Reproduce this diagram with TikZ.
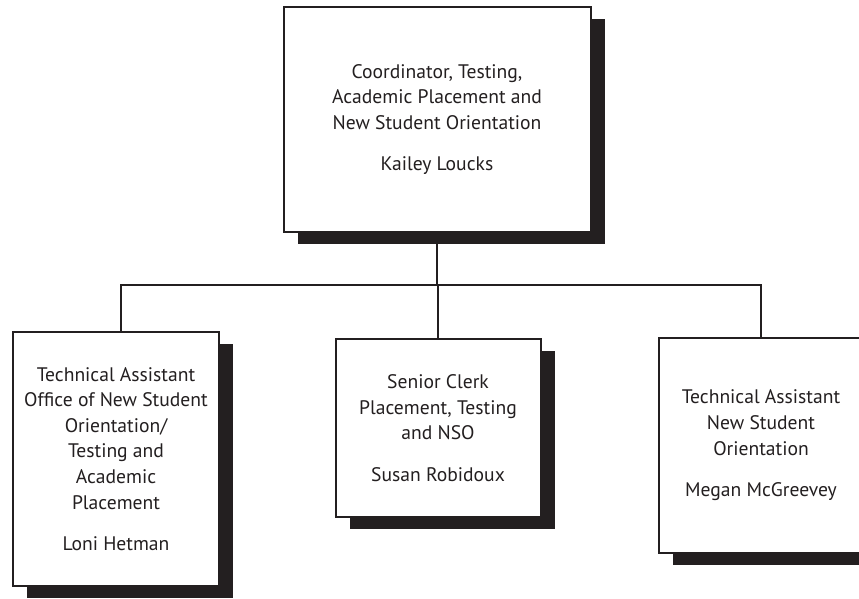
\documentclass[tikz,border=0pt]{standalone}
\usepackage{fontspec}
\setmainfont{PT Sans}
\usetikzlibrary{shadows}
\definecolor{ink}{HTML}{231F20}

\begin{document}
\begin{tikzpicture}[x=0.5pt, y=0.5pt, line width=1pt, draw=ink,
            post/.style = {draw=ink, fill=white, text=ink, align=center, inner sep=0pt,
                font=\fontsize{9.8}{12.8}\selectfont,
                drop shadow={shadow xshift=7pt, shadow yshift=-6pt, fill=ink, opacity=1}}]
                \useasboundingbox (0,0) rectangle (859,599);

                \node[post, minimum width=153.5pt, minimum height=112.5pt] (coord) at (437,479.5)
                    {Coordinator, Testing,\\Academic Placement and\\New Student Orientation\\[8pt]Kailey Loucks};
                \node[post, minimum width=103pt, minimum height=127pt] (techA) at (116,140)
                    {Technical Assistant\\Office of New Student\\Orientation/\\Testing and\\Academic\\Placement\\[8pt]Loni Hetman};
                \node[post, minimum width=102.5pt, minimum height=89pt] (clerk) at (438,171)
                    {Senior Clerk\\Placement, Testing\\and NSO\\[8pt]Susan Robidoux};
                \node[post, minimum width=102pt, minimum height=107.5pt] (techB) at (761,153.5)
                    {Technical Assistant\\New Student\\Orientation\\[8pt]Megan McGreevey};

                \coordinate (bus) at (437,314);
                \draw (coord.south) -- (bus);
                \draw ([xshift=2.5pt]techA.north) |- (bus) -| (techB.north);
                \draw (bus -| clerk.north) -- (clerk.north);
        \end{tikzpicture}
\end{document}
